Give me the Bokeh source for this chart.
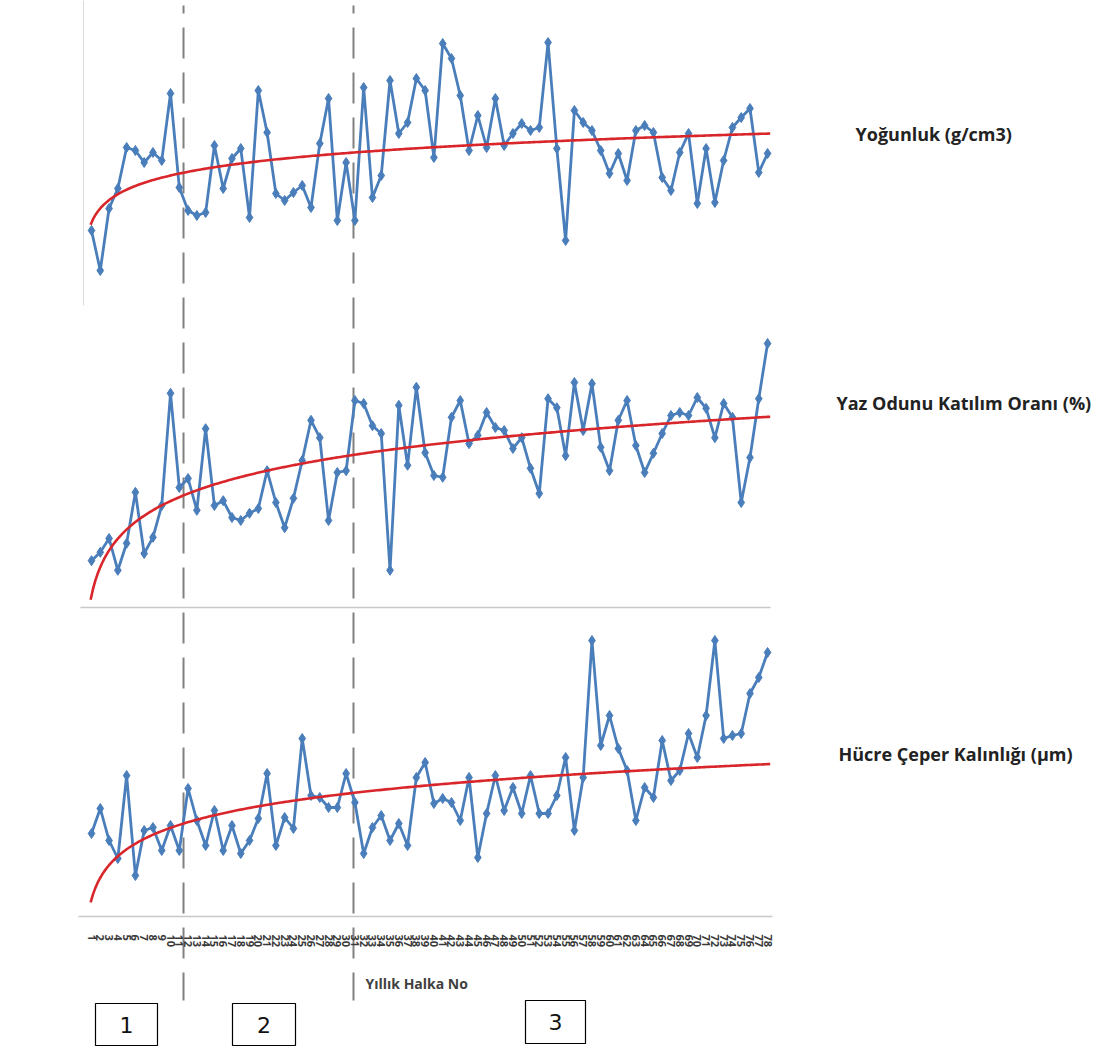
import numpy as np
from bokeh.plotting import figure
from bokeh.models import Range1d, LinearAxis, FixedTicker, ColumnDataSource, Label
from bokeh.embed import file_html
from bokeh.resources import INLINE
from bokeh.core.properties import value

# ---------------- data ----------------
rings = list(range(1, 79))  # Yıllık halka no

density = [0.470, 0.430, 0.492, 0.512, 0.553, 0.550, 0.538, 0.548, 0.540, 0.607,
           0.513, 0.490, 0.485, 0.488, 0.555, 0.512, 0.542, 0.552, 0.483, 0.610,
           0.568, 0.507, 0.500, 0.508, 0.515, 0.493, 0.557, 0.602, 0.480, 0.538,
           0.480, 0.613, 0.503, 0.525, 0.620, 0.567, 0.578, 0.622, 0.610, 0.543,
           0.657, 0.642, 0.605, 0.550, 0.585, 0.553, 0.602, 0.555, 0.567, 0.577,
           0.570, 0.573, 0.658, 0.552, 0.460, 0.590, 0.578, 0.570, 0.550, 0.527,
           0.547, 0.520, 0.570, 0.575, 0.568, 0.523, 0.510, 0.548, 0.567, 0.497,
           0.552, 0.498, 0.540, 0.573, 0.583, 0.592, 0.528, 0.547]

latewood = [13.3, 14.7, 17.0, 11.7, 16.2, 24.7, 14.5, 17.2, 22.5, 41.2,
            25.5, 27.0, 21.7, 35.3, 22.5, 23.3, 20.5, 20.0, 21.2, 22.0,
            28.3, 23.0, 18.8, 23.7, 30.0, 36.7, 33.8, 20.0, 28.0, 28.3,
            40.0, 39.5, 35.8, 34.5, 11.7, 39.2, 29.2, 42.2, 31.3, 27.5,
            27.2, 37.2, 40.0, 32.8, 34.2, 38.0, 35.5, 35.0, 32.0, 33.8,
            28.7, 24.5, 40.3, 38.8, 30.8, 43.0, 35.0, 42.8, 32.2, 28.3,
            36.7, 40.0, 32.5, 28.0, 31.2, 34.5, 37.5, 38.0, 37.5, 40.5,
            38.7, 33.8, 39.5, 37.2, 23.0, 30.5, 40.3, 49.5]

wall = [2.54, 3.04, 2.40, 2.04, 3.70, 1.70, 2.60, 2.66, 2.20, 2.70,
        2.20, 3.44, 2.80, 2.30, 3.00, 2.20, 2.70, 2.14, 2.40, 2.84,
        3.74, 2.30, 2.86, 2.64, 4.44, 3.30, 3.26, 3.06, 3.06, 3.74,
        3.16, 2.14, 2.66, 2.90, 2.40, 2.74, 2.30, 3.66, 3.96, 3.14,
        3.24, 3.16, 2.80, 3.66, 2.06, 2.94, 3.70, 3.00, 3.46, 2.94,
        3.70, 2.94, 2.94, 3.30, 4.06, 2.60, 3.66, 6.40, 4.30, 4.90,
        4.24, 3.80, 2.80, 3.46, 3.26, 4.40, 3.60, 3.80, 4.54, 4.06,
        4.90, 6.40, 4.44, 4.50, 4.54, 5.34, 5.66, 6.16]

# logarithmic trend lines  y = a + b*ln(x)  (coefficients)
trend_density = (0.478, 0.0204)
trend_latewood = (7.5, 6.833)
trend_wall = (1.226, 0.62)

series_names = ["Yoğunluk (g/cm3)", "Yaz Odunu Katılım Oranı (%)", "Hücre Çeper Kalınlığı (µm)"]
period_bounds = [11.48, 30.84]   # boundaries between periods 1|2 and 2|3 (ring no)
period_labels = ["1", "2", "3"]
x_title = "Yıllık Halka  No"

# ---------------- figure ----------------
FW, FH = 1096, 1050
p = figure(frame_width=FW, frame_height=FH, output_backend="svg", toolbar_location=None,
           x_range=Range1d(-9.3645, 115.4647), y_range=Range1d(1050, 0),
           x_axis_type=None, y_axis_type=None, min_border=0,
           outline_line_color=None, background_fill_color="white", border_fill_color="white")
p.extra_x_ranges = {"page": Range1d(0, 1096)}
p.extra_y_ranges = {"dens": Range1d(-0.35, 0.70),
                    "late": Range1d(-68.333, 106.667),
                    "wall": Range1d(-1.8, 19.2)}

BLUE = "#4A7EBB"
RED = "#D9262B"

# panel frame lines (light gray)
p.segment(x0=[83], y0=[0], x1=[83], y1=[305], x_range_name="page",
          line_color="#dcdcdc", line_width=1)
p.segment(x0=[80, 78], y0=[607, 916], x1=[770, 772], y1=[607, 916], x_range_name="page",
          line_color="#c8c8c8", line_width=1.6)

# period dashed lines
p.segment(x0=period_bounds, y0=[5, 5], x1=period_bounds, y1=[1000, 1000],
          line_color="#808080", line_width=2, line_dash="31 14", line_dash_offset=23)

xt = np.linspace(0.9, rings[-1] + 0.3, 300)
for vals, (a, b), rname in [(density, trend_density, "dens"),
                            (latewood, trend_latewood, "late"),
                            (wall, trend_wall, "wall")]:
    src = ColumnDataSource(dict(x=rings, y=vals))
    p.line("x", "y", source=src, y_range_name=rname, line_color=BLUE, line_width=2.8)
    p.scatter("x", "y", source=src, y_range_name=rname, marker="diamond", size=10,
              fill_color=BLUE, line_color=BLUE)
    p.line(xt, a + b * np.log(xt), y_range_name=rname, line_color=RED, line_width=2.6)

# right-hand series labels
for name, xx, yy in zip(series_names, [855, 836, 838], [133, 402, 753]):
    p.add_layout(Label(x=xx, y=yy, x_range_name="page", text=name,
                       text_font="Open Sans", text_font_style="bold",
                       text_font_size="18px", text_color="#222222",
                       text_baseline="middle", text_align="left"))

# x axis (ring numbers) drawn at the bottom separator
xaxis = LinearAxis(fixed_location=916, ticker=FixedTicker(ticks=rings),
                   major_label_orientation="vertical",
                   axis_line_color=None, major_tick_line_color=None,
                   minor_tick_line_color=None, major_tick_out=0, major_tick_in=0,
                   major_label_standoff=18,
                   major_label_text_font="Open Sans",
                   major_label_text_font_style="bold",
                   major_label_text_font_size="11px",
                   major_label_text_color="#3a3a3a")
p.add_layout(xaxis, "below")

# axis title
p.add_layout(Label(x=365, y=983, x_range_name="page", text=x_title,
                   text_font="Open Sans", text_font_style="bold",
                   text_font_size="14px", text_color="#404040",
                   text_baseline="middle", text_align="left"))

# period boxes
box_l = [95, 232, 525]
box_r = [157, 295, 585]
box_t = [1003, 1003, 1000]
box_b = [1045, 1045, 1043]
p.quad(left=box_l, right=box_r, top=box_t, bottom=box_b, x_range_name="page",
       fill_color="white", line_color="black", line_width=1.2)
p.text(x=[(l + r) / 2 for l, r in zip(box_l, box_r)],
       y=[(t + b) / 2 for t, b in zip(box_t, box_b)],
       text=period_labels, x_range_name="page",
       text_font=value("DejaVu Sans"), text_font_size="22px", text_color="#111111",
       text_align="center", text_baseline="middle")

open("out.html", "w").write(file_html(p, INLINE))
